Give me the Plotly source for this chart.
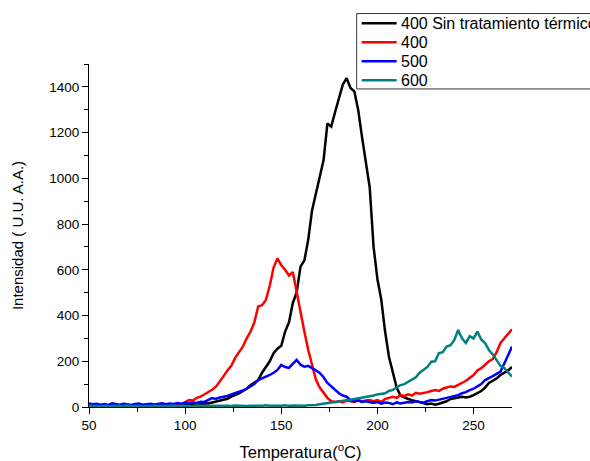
import plotly.graph_objects as go

temperatura = list(range(50, 271, 2))

sin_tratamiento = [8, 5, 6, 4, 7, 5, 3, 6, 4, 5, 7, 4, 6, 3, 5, 6, 4, 7, 5, 6, 8, 5, 7, 6, 9,
                   10, 12, 9, 14, 12, 16, 15, 19, 22, 25,
                   30, 36, 45, 52, 60, 70, 80, 95, 105, 118, 150, 176, 200, 235, 255, 268, 330, 370, 455, 500,
                   614, 640, 730, 860, 930, 1000, 1080, 1240, 1226, 1290, 1350, 1410, 1438, 1395, 1380, 1300, 1180, 1060, 960, 700,
                   560, 470, 330, 220, 150, 85, 50, 42, 35, 30, 25, 20, 18, 12, 15, 10, 14, 20, 25, 35,
                   38, 40, 45, 42, 45, 52, 60, 70, 85, 105, 115, 125, 140, 150, 160, 175]

t400 = [10, 8, 12, 6, 9, 5, 7, 4, 6, 8, 5, 7, 9, 6, 8, 10, 7, 9, 11, 8, 10, 12, 9, 14, 12,
        20, 30, 28, 40, 45, 55, 65, 75, 89, 110,
        135, 160, 180, 215, 240, 264, 300, 330, 370, 440, 445, 468, 530, 610, 650, 620, 600, 575, 590, 500,
        420, 330, 250, 180, 120, 85, 60, 40, 25, 22, 25, 20, 28, 25, 22, 30, 25, 28, 30, 25,
        30, 22, 35, 40, 45, 40, 52, 48, 55, 50, 62, 58, 60, 65, 70, 74, 70, 80, 85, 90,
        88, 95, 105, 115, 127, 140, 160, 170, 185, 200, 210, 240, 280, 300, 320, 340]

t500 = [15, 12, 14, 10, 13, 9, 16, 12, 10, 14, 11, 9, 13, 15, 10, 12, 14, 11, 13, 16, 12, 15, 13, 17, 14,
        18, 15, 20, 18, 23, 22, 30, 39, 35, 42,
        45, 48, 55, 60, 67, 72, 80, 89, 100, 118, 125, 130, 140, 150, 162, 184, 175, 171, 190, 206,
        185, 176, 180, 171, 160, 149, 130, 105, 90, 74, 60, 50, 45, 30, 25, 28, 22, 25, 20, 18,
        22, 15, 20, 18, 12, 20, 15, 18, 22, 20, 25, 22, 20, 25, 30, 28, 32, 35, 38, 45,
        48, 52, 60, 65, 74, 80, 90, 100, 118, 125, 135, 145, 155, 190, 225, 264]

t600 = [5, 4, 6, 3, 5, 4, 2, 5, 3, 4, 6, 3, 4, 5, 2, 4, 3, 5, 4, 3, 5, 4, 6, 3, 5,
        4, 5, 3, 6, 4, 5, 3, 6, 5, 4,
        5, 6, 4, 7, 5, 6, 4, 5, 7, 6, 5, 8, 6, 5, 7, 6, 8, 5, 7, 6,
        7, 6, 8, 7, 9, 12, 15, 18, 20, 22, 25, 28, 30, 32, 35, 38, 40, 42, 45, 50,
        55, 58, 60, 70, 75, 85, 96, 100, 110, 118, 130, 150, 162, 175, 198, 200, 236, 240, 264, 270,
        293, 337, 300, 280, 310, 300, 330, 295, 280, 249, 230, 206, 180, 171, 150, 133]

series = [
    ("400 Sin tratamiento térmico", sin_tratamiento, "black"),
    ("400", t400, "#ff0000"),
    ("500", t500, "#0000ff"),
    ("600", t600, "#008080"),
]

# plot area in screen pixels; page body margin is removed below
W, H = 590, 461
L, R, T, B = 89, 512.5, 64, 407.5


def px_x(p):
    return (p - L) / (R - L)


def px_y(p):
    return (B - p) / (B - T)


fig = go.Figure()
for name, vals, color in series:
    fig.add_trace(go.Scatter(x=temperatura, y=vals, mode="lines", name=name,
                             line=dict(color=color, width=2.5), showlegend=False))

# legend box drawn by hand so it can run off the right edge like the original
fig.add_shape(type="rect", xref="paper", yref="paper",
              x0=px_x(357), x1=px_x(640), y0=px_y(89), y1=px_y(13.5),
              line=dict(color="#333333", width=1), fillcolor="white", layer="above")
rows_y = [23.3, 42.3, 61.3, 80.3]
for (name, _, color), ry in zip(series, rows_y):
    fig.add_shape(type="line", xref="paper", yref="paper",
                  x0=px_x(362), x1=px_x(397), y0=px_y(ry), y1=px_y(ry),
                  line=dict(color=color, width=2.5), layer="above")
    fig.add_annotation(x=px_x(400), y=px_y(ry), xref="paper", yref="paper",
                       text=name, showarrow=False, xanchor="left", yanchor="middle",
                       font=dict(size=16, color="black"), borderpad=0)

axis_style = dict(showline=True, linecolor="black", linewidth=1, ticks="outside",
                  ticklen=6, tickcolor="black", showgrid=False, zeroline=False,
                  tickfont=dict(size=13.5, color="black"))

fig.update_xaxes(range=[50, 270], tickvals=[50, 100, 150, 200, 250],
                 minor=dict(ticks="outside", ticklen=4, tickcolor="black", dtick=25, tick0=50),
                 title=dict(text="Temperatura(<sup>o</sup>C)", font=dict(size=16.5, color="black"), standoff=14),
                 **axis_style)
fig.update_yaxes(range=[0, 1500], tickvals=[0, 200, 400, 600, 800, 1000, 1200, 1400],
                 minor=dict(ticks="outside", ticklen=4, tickcolor="black", dtick=100, tick0=0),
                 title=dict(text="Intensidad ( U.U. A.A.)", font=dict(size=15, color="black"), standoff=22),
                 **axis_style)

fig.update_layout(
    width=W, height=H,
    margin=dict(l=L, r=W - R, t=T, b=H - B, autoexpand=False),
    plot_bgcolor="white", paper_bgcolor="white",
    font=dict(family="Liberation Sans, Arial, sans-serif", color="black"),
)

fig.write_html("out.html", config={"displayModeBar": False},
               post_script="document.body.style.margin = '0';")
